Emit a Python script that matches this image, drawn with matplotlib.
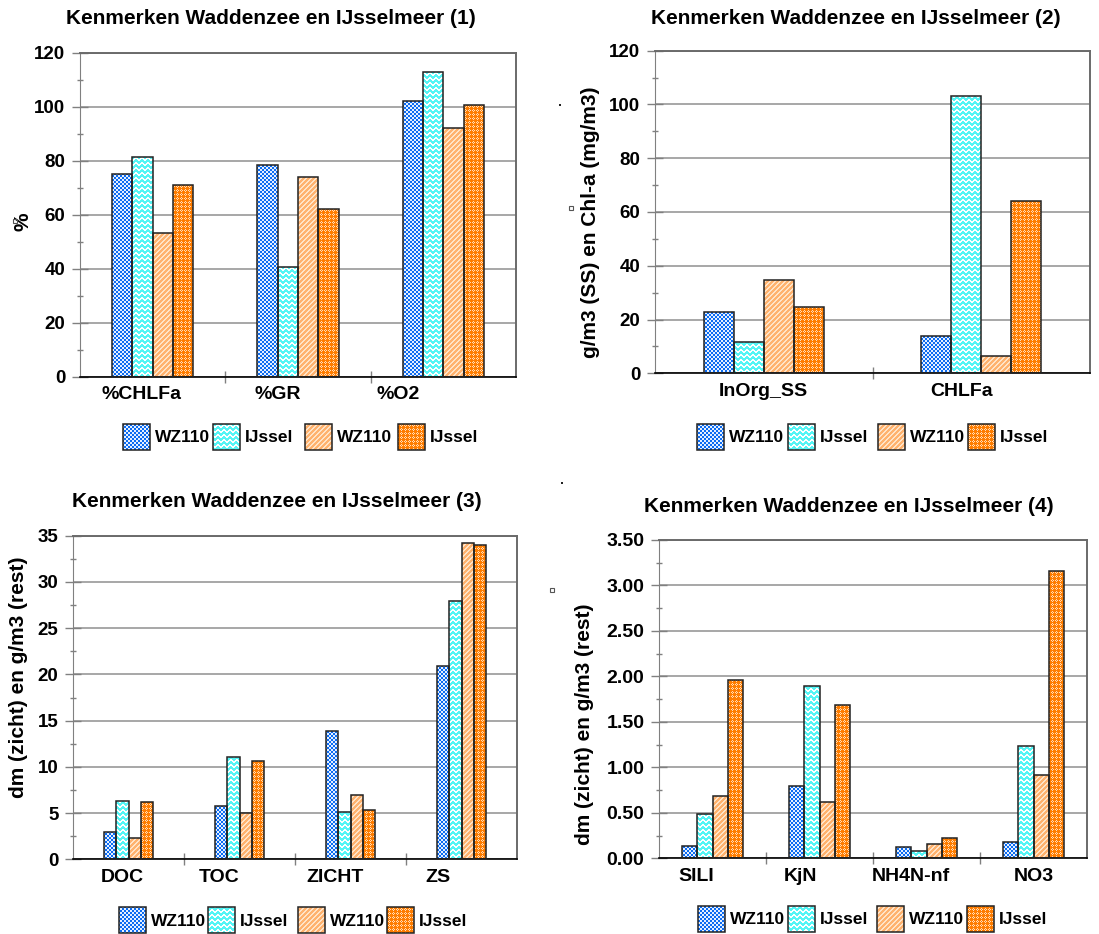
import numpy as np
import matplotlib
matplotlib.use("Agg")
import matplotlib.pyplot as plt
from matplotlib.path import Path
from matplotlib.patches import Rectangle
from matplotlib.colors import to_rgb

plt.rcParams['font.family'] = ['Liberation Sans', 'DejaVu Sans']

# ---------------- data ----------------
series_names = ["WZ110", "IJssel", "WZ110", "IJssel"]

cats1 = ["%CHLFa", "%GR", "%O2"]
wz110_1 = [75.0, 78.5, 102.2]
ijssel_1 = [81.3, 40.5, 113.0]
wz110b_1 = [53.1, 74.0, 92.0]
ijsselb_1 = [71.1, 62.0, 100.7]

cats2 = ["InOrg_SS", "CHLFa"]
wz110_2 = [22.9, 13.9]
ijssel_2 = [11.8, 103.2]
wz110b_2 = [34.7, 6.4]
ijsselb_2 = [24.8, 64.1]

cats3 = ["DOC", "TOC", "ZICHT", "ZS"]
wz110_3 = [3.0, 5.8, 13.9, 20.9]
ijssel_3 = [6.3, 11.1, 5.1, 27.9]
wz110b_3 = [2.3, 5.0, 6.95, 34.2]
ijsselb_3 = [6.2, 10.6, 5.3, 34.0]

cats4 = ["SILI", "KjN", "NH4N-nf", "NO3"]
wz110_4 = [0.13, 0.80, 0.12, 0.18]
ijssel_4 = [0.49, 1.89, 0.08, 1.23]
wz110b_4 = [0.68, 0.62, 0.16, 0.92]
ijsselb_4 = [1.96, 1.69, 0.22, 3.16]

titles = ["Kenmerken Waddenzee en IJsselmeer (1)",
          "Kenmerken Waddenzee en IJsselmeer (2)",
          "Kenmerken Waddenzee en IJsselmeer (3)",
          "Kenmerken Waddenzee en IJsselmeer (4)"]
ylabels = ["%", "g/m3 (SS) en Chl-a (mg/m3)",
           "dm (zicht) en g/m3 (rest)", "dm (zicht) en g/m3 (rest)"]

# ---------------- fill patterns ----------------
KINDS = ["checker", "wave", "diag", "dots"]
BASE = {"checker": "#0c6cf2", "wave": "#55f5f5", "diag": "#ffb26e", "dots": "#ff7d00"}
LIGHT = {"checker": "#e4efff", "wave": "#ffffff", "diag": "#ffe4c8", "dots": "#ffdcb8"}


def texture(kind, h, w):
    yy, xx = np.mgrid[0:h, 0:w]
    if kind == "checker":
        mask = ((xx // 2) + (yy // 2)) % 2 == 0
    elif kind == "wave":
        off = np.round(np.sin(xx * 2 * np.pi / 6.0) * 1.0).astype(int)
        mask = ((yy + off) % 5) < 2
    elif kind == "diag":
        mask = ((xx + yy) % 5) < 2
    else:
        # small light diamonds on a 4-pixel grid
        mask = (np.abs(xx % 4 - 1) + np.abs(yy % 4 - 1)) == 1
    base = np.array(to_rgb(BASE[kind]))
    light = np.array(to_rgb(LIGHT[kind]))
    return np.where(mask[..., None], light, base)


def fill_patches(ax, patches, kind, zorder):
    """Cover the given rectangles with a pixel texture clipped to them."""
    bb = ax.get_window_extent()
    w, h = int(round(bb.width)), int(round(bb.height))
    x0, x1 = ax.get_xlim()
    y0, y1 = ax.get_ylim()
    paths = [p.get_patch_transform().transform_path(p.get_path()) for p in patches]
    clip = Path.make_compound_path(*paths)
    im = ax.imshow(texture(kind, h, w), extent=(x0, x1, y0, y1), origin="upper",
                   interpolation="nearest", aspect="auto", zorder=zorder)
    im.set_clip_path(clip, ax.transData)
    ax.set_xlim(x0, x1)
    ax.set_ylim(y0, y1)


W, H = 1099, 934
fig = plt.figure(figsize=(W / 100, H / 100), dpi=100)
fig.patch.set_facecolor("white")


def px_axes(left, right, top, bottom):
    return fig.add_axes([left / W, 1 - bottom / H, (right - left) / W, (bottom - top) / H])


def draw_chart(box, cats, series, ymax, ystep, fmt, barw, label_dx, tick_fs):
    ax = px_axes(*box)
    n = len(cats)
    x = np.arange(n)
    ax.set_xlim(-0.5, n - 0.5)
    ax.set_ylim(0, ymax)
    ax.set_axisbelow(True)
    ax.yaxis.grid(True, color="#a0a0a0", lw=1.3)
    ax.set_yticks(np.arange(0, ymax + ystep / 2, ystep))
    ax.set_yticks(np.arange(ystep / 2, ymax, ystep), minor=True)
    ax.set_yticklabels([fmt.format(v) for v in np.arange(0, ymax + ystep / 2, ystep)],
                       fontweight="bold", fontsize=tick_fs)
    ax.tick_params(axis="y", which="major", direction="inout", length=11, width=1,
                   color="#808080", pad=5)
    ax.tick_params(axis="y", which="minor", direction="inout", length=5, width=1,
                   color="#808080")
    # category separators on the x axis, labels between them
    ax.set_xticks(np.arange(0.5, n - 0.5, 1.0))
    ax.set_xticklabels([])
    ax.tick_params(axis="x", which="major", direction="inout", length=8, width=1,
                   color="#808080")
    cat_px = (box[1] - box[0]) / n
    ax.set_xticks(x + np.array(label_dx) / cat_px, minor=True)
    ax.set_xticklabels(cats, minor=True, fontweight="bold", fontsize=14)
    ax.tick_params(axis="x", which="minor", length=0, pad=7)
    for s in ("top", "right"):
        ax.spines[s].set_color("#6a6a6a")
        ax.spines[s].set_linewidth(1.4)
    ax.spines["left"].set_color("#808080")
    ax.spines["bottom"].set_color("#000000")
    ax.spines["bottom"].set_linewidth(1.2)

    for k, (vals, kind) in enumerate(zip(series, KINDS)):
        xs = x + (k - 1.5) * barw
        bars = ax.bar(xs, vals, width=barw, color=BASE[kind], edgecolor="none", zorder=2)
        fill_patches(ax, bars.patches, kind, 2.5)
        ax.bar(xs, vals, width=barw, fill=False, edgecolor="#222222", lw=1.1, zorder=3)
    return ax


ax1 = draw_chart((80, 516, 52.7, 376.7), cats1, [wz110_1, ijssel_1, wz110b_1, ijsselb_1],
                 120, 20, "{:.0f}", 0.14, [-11, -20, -45], 13.5)
ax2 = draw_chart((655, 1090, 50.7, 373.3), cats2, [wz110_2, ijssel_2, wz110b_2, ijsselb_2],
                 120, 20, "{:.0f}", 0.1376, [0, -20], 13.5)
ax3 = draw_chart((73, 517, 535.7, 859.3), cats3, [wz110_3, ijssel_3, wz110b_3, ijsselb_3],
                 35, 5, "{:.0f}", 0.1126, [-6, -20, -15, -24], 13.5)
ax4 = draw_chart((659, 1087, 540, 858.3), cats4, [wz110_4, ijssel_4, wz110b_4, ijsselb_4],
                 3.5, 0.5, "{:.2f}", 0.142, [-16, -19, -16, 0], 14)

# ---------------- titles and axis labels ----------------
for (tx, ty), t in zip([(271, 18), (856, 18), (277, 502), (849, 507)], titles):
    fig.text(tx / W, 1 - ty / H, t, ha="center", va="center", fontsize=15, fontweight="bold")

for (lx, ly), lab in zip([(23, 222), (590, 222), (19, 677), (585, 724)], ylabels):
    fig.text(lx / W, 1 - ly / H, lab, ha="center", va="center", rotation=90,
             fontsize=15, fontweight="bold")

# ---------------- legends and stray marks (drawn on a pixel overlay) ----------------
ov = fig.add_axes([0, 0, 1, 1], zorder=5)
ov.set_xlim(0, W)
ov.set_ylim(H, 0)
ov.axis("off")
ov.patch.set_alpha(0)

for sx, sy in [(15, 221), (571, 208), (552, 590)]:
    ov.add_patch(Rectangle((sx - 2, sy - 2), 4, 4, fill=False, edgecolor="#555555", lw=0.8))
for dx, dy in [(560, 105), (562, 483)]:
    ov.add_patch(Rectangle((dx - 1, dy - 1), 2, 2, facecolor="#222222", edgecolor="none"))

legend_rows = [
    (437, [123, 213, 305, 398]),
    (437, [697, 788, 878, 968]),
    (920, [119, 208, 298, 387]),
    (919, [698, 788, 877, 967]),
]
sw_w, sw_h = 27, 26
swatches = {k: [] for k in KINDS}
for cy, xs in legend_rows:
    for kind, sx, name in zip(KINDS, xs, series_names):
        r = Rectangle((sx, cy - sw_h / 2), sw_w, sw_h, facecolor=BASE[kind],
                      edgecolor="none", zorder=2)
        ov.add_patch(r)
        swatches[kind].append(r)
        ov.add_patch(Rectangle((sx, cy - sw_h / 2), sw_w, sw_h, fill=False,
                               edgecolor="#222222", lw=1.1, zorder=3))
        ov.text(sx + sw_w + 5, cy + 1, name, ha="left", va="center",
                fontsize=12.5, fontweight="bold")
for kind in KINDS:
    fill_patches(ov, swatches[kind], kind, 2.5)

fig.savefig("out.png", dpi=100)
